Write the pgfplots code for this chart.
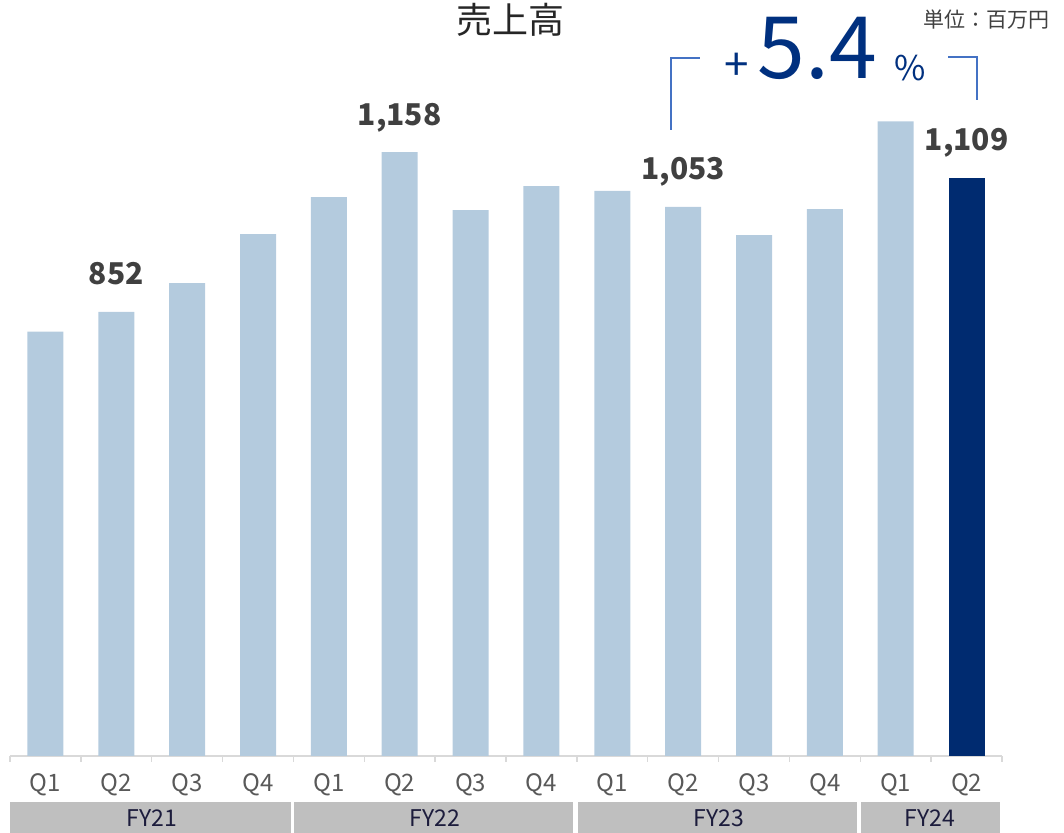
\documentclass[border=0pt]{standalone}
\usepackage{fontspec}
\setmainfont{Noto Sans CJK JP}
\usepackage{pgfplots}
\pgfplotsset{compat=1.18}

\definecolor{barlight}{HTML}{B4CBDE}
\definecolor{bardark}{HTML}{002B70}
\definecolor{navy}{HTML}{00307F}
\definecolor{boxgray}{HTML}{BFBFBF}
\definecolor{brk}{HTML}{4472C4}
\definecolor{axgray}{HTML}{D9D9D9}
\definecolor{ticktext}{HTML}{595959}
\definecolor{valtext}{HTML}{404040}
\definecolor{titletext}{HTML}{262626}
\definecolor{fytext}{HTML}{1C1C3C}

\begin{document}
\begin{tikzpicture}
% picture frame: 1 px of the reference = 0.5pt
\path[use as bounding box] (-5pt,-38.5pt) rectangle (527pt,378pt);

\begin{axis}[
  scale only axis,
  width=496pt, height=378pt,
  xmin=-0.5, xmax=13.5,
  ymin=0, ymax=1450,
  axis x line*=bottom,
  axis y line=none,
  x axis line style={draw=axgray, line width=0.75pt},
  xtick={0,...,13},
  xticklabels={Q1,Q2,Q3,Q4,Q1,Q2,Q3,Q4,Q1,Q2,Q3,Q4,Q1,Q2},
  major tick length=0pt,
  minor xtick={-0.5,0.5,...,13.5},
  minor tick length=3pt,
  xtick align=outside,
  xtick pos=bottom,
  minor tick style={draw=axgray, line width=0.75pt},
  ytick=\empty,
  xticklabel style={font=\fontsize{12}{14}\selectfont, text=ticktext, anchor=center, yshift=-14.5pt},
  clip=false,
  ybar, bar width=18pt, bar shift=0pt,
]

\addplot[fill=barlight, draw=none] coordinates {
  (0,814) (1,852) (2,907) (3,1001)
  (4,1072) (5,1158) (6,1047) (7,1093)
  (8,1084) (9,1053) (10,999) (11,1049)
  (12,1217)
};
\addplot[fill=bardark, draw=none] coordinates {(13,1109)};

% value labels
\node[anchor=base, yshift=13.5pt, font=\bfseries\fontsize{15}{17}\selectfont, text=valtext] at (axis cs:1,852) {852};
\node[anchor=base, yshift=13.5pt, font=\bfseries\fontsize{15}{17}\selectfont, text=valtext] at (axis cs:5,1158) {1,158};
\node[anchor=base, yshift=13.5pt, font=\bfseries\fontsize{15}{17}\selectfont, text=valtext] at (axis cs:9,1053) {1,053};
\node[anchor=base, yshift=13.5pt, font=\bfseries\fontsize{15}{17}\selectfont, text=valtext] at (axis cs:13,1109) {1,109};

% fiscal year bands
\fill[boxgray] (axis cs:-0.5,-88) rectangle (axis cs:3.46,-148);
\fill[boxgray] (axis cs:3.51,-88) rectangle (axis cs:7.45,-148);
\fill[boxgray] (axis cs:7.51,-88) rectangle (axis cs:11.45,-148);
\fill[boxgray] (axis cs:11.51,-88) rectangle (axis cs:13.47,-148);
\node[font=\fontsize{11.5}{13}\selectfont, text=fytext] at (axis cs:1.5,-119) {FY21};
\node[font=\fontsize{11.5}{13}\selectfont, text=fytext] at (axis cs:5.5,-119) {FY22};
\node[font=\fontsize{11.5}{13}\selectfont, text=fytext] at (axis cs:9.5,-119) {FY23};
\node[font=\fontsize{11.5}{13}\selectfont, text=fytext] at (axis cs:12.48,-119) {FY24};
\end{axis}

% title and annotations
\node[font=\fontsize{18}{20}\selectfont, text=titletext] at (250pt,368pt) {売上高};
\node[anchor=east, font=\fontsize{10.5}{12}\selectfont, text=valtext] at (523.5pt,368pt) {単位：百万円};
\draw[brk, line width=0.75pt] (330.5pt,313pt) -- (330.5pt,349pt) -- (345pt,349pt);
\draw[brk, line width=0.75pt] (469pt,349.5pt) -- (483.5pt,349.5pt) -- (483.5pt,328pt);
\node[text=navy, font=\fontsize{43}{48}\selectfont] at (403.75pt,354pt) {5.4};
\node[text=navy, font=\fontsize{22}{24}\selectfont] at (363.5pt,344.5pt) {+};
\node[text=navy, font=\fontsize{17}{18}\selectfont] at (450pt,344pt) {\%};
\end{tikzpicture}
\end{document}
